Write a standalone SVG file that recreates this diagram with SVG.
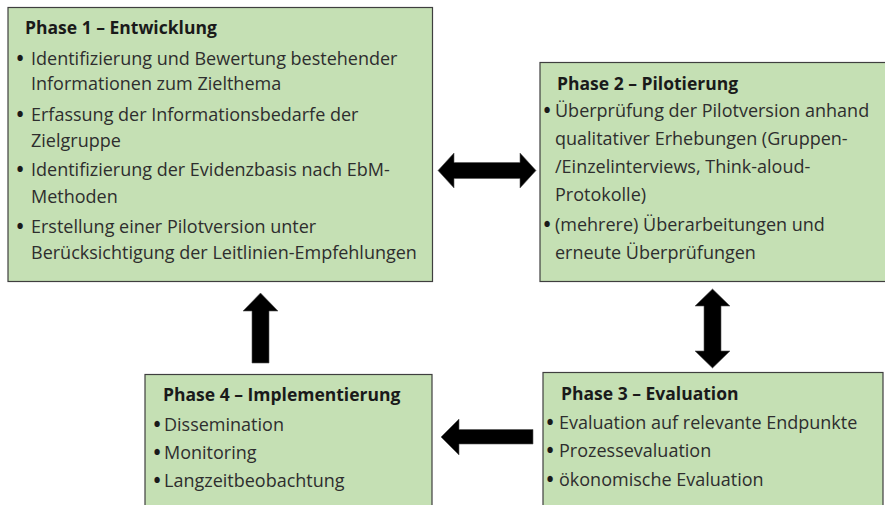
<svg xmlns="http://www.w3.org/2000/svg" width="885" height="505" viewBox="0 0 885 505">
<style>
.box{fill:#C5E0B4;stroke:#3f3f3f;stroke-width:1.2}
text{font-family:"Open Sans","Noto Sans","Liberation Sans",sans-serif;font-size:18px;font-variant-ligatures:none}
.t{font-size:17.5px;font-weight:bold;fill:#1a1a1a}
.b{fill:#2e2e2e}
.bl{fill:#1a1a1a;text-anchor:middle;font-weight:bold;font-size:19px}
.arr{fill:#000;stroke:#555;stroke-width:0.6}
</style>
<rect width="885" height="505" fill="#fff"/>
<g id="phase1">
<rect class="box" x="8" y="7.5" width="424.5" height="274"/>
<text class="t" x="25" y="34">Phase 1 – Entwicklung</text>
<text class="bl" x="20" y="65">•</text>
<text class="b" x="31" y="65">Identifizierung und Bewertung bestehender</text>
<text class="b" x="31" y="90">Informationen zum Zielthema</text>
<text class="bl" x="20" y="121">•</text>
<text class="b" x="31" y="121">Erfassung der Informationsbedarfe der</text>
<text class="b" x="31" y="147">Zielgruppe</text>
<text class="bl" x="20" y="176">•</text>
<text class="b" x="31" y="176">Identifizierung der Evidenzbasis nach EbM-</text>
<text class="b" x="31" y="203">Methoden</text>
<text class="bl" x="20" y="233">•</text>
<text class="b" x="31" y="233">Erstellung einer Pilotversion unter</text>
<text class="b" x="31" y="259">Berücksichtigung der Leitlinien-Empfehlungen</text>
</g>
<g id="phase2">
<rect class="box" x="540" y="62.5" width="350" height="219"/>
<text class="t" x="557" y="90">Phase 2 – Pilotierung</text>
<text class="bl" x="547" y="117">•</text>
<text class="b" x="555" y="117">Überprüfung der Pilotversion anhand</text>
<text class="b" x="555" y="145">qualitativer Erhebungen (Gruppen-</text>
<text class="b" x="555" y="173">/Einzelinterviews, Think-aloud-</text>
<text class="b" x="555" y="201">Protokolle)</text>
<text class="bl" x="547" y="231">•</text>
<text class="b" x="555" y="231">(mehrere) Überarbeitungen und</text>
<text class="b" x="555" y="259">erneute Überprüfungen</text>
</g>
<g id="phase3">
<rect class="box" x="543" y="372.5" width="340" height="140"/>
<text class="t" x="561" y="400">Phase 3 – Evaluation</text>
<text class="bl" x="550" y="429">•</text>
<text class="b" x="559" y="429">Evaluation auf relevante Endpunkte</text>
<text class="bl" x="550" y="457">•</text>
<text class="b" x="559" y="457">Prozessevaluation</text>
<text class="bl" x="550" y="486">•</text>
<text class="b" x="559" y="486">ökonomische Evaluation</text>
</g>
<g id="phase4">
<rect class="box" x="145" y="374.5" width="287" height="140"/>
<text class="t" x="163" y="401">Phase 4 – Implementierung</text>
<text class="bl" x="157" y="431">•</text>
<text class="b" x="164" y="431">Dissemination</text>
<text class="bl" x="157" y="459">•</text>
<text class="b" x="164" y="459">Monitoring</text>
<text class="bl" x="157" y="487">•</text>
<text class="b" x="164" y="487">Langzeitbeobachtung</text>
</g>
<g id="connectors">
<polygon class="arr" points="438,170.5 454,153 454,162.5 520,162.5 520,153 536,170.5 520,188 520,178.5 454,178.5 454,188"/>
<polygon class="arr" points="712.5,289 730,306 721,306 721,351 730,351 712.5,368 695,351 704,351 704,306 695,306"/>
<polygon class="arr" points="441,437 459,419 459,429.5 533,429.5 533,444 459,444 459,455"/>
<polygon class="arr" points="260.5,293 278,311 269,311 269,363 252,363 252,311 243,311"/>
</g>
</svg>
